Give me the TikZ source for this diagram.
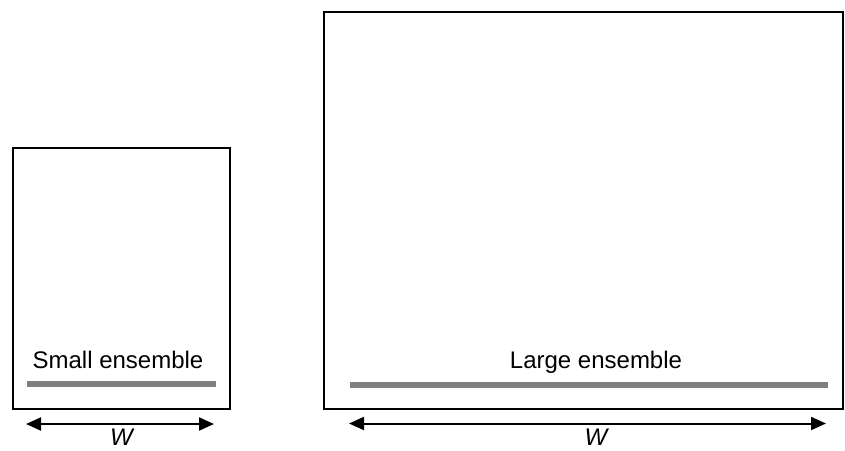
\documentclass[tikz,border=0pt]{standalone}
\usepackage{fontspec}
\setmainfont{Liberation Sans}
\usetikzlibrary{arrows.meta}
\begin{document}
\begin{tikzpicture}[x=1pt,y=-1pt,
  box/.style={draw=black,line width=2pt,inner sep=0pt,outer sep=0pt},
  bar/.style={draw={rgb,255:red,128;green,128;blue,128},line width=6pt},
  dim/.style={line width=2pt,{Triangle[length=15pt,width=13pt]}-{Triangle[length=15pt,width=13pt]}},
  lbl/.style={anchor=base,inner sep=0pt,font=\fontsize{24pt}{28pt}\selectfont}]
\useasboundingbox (0,0) rectangle (845,450);
% boxes
\node[box,minimum width=216.5pt,minimum height=260.5pt] (smallbox) at (121.25,278.25) {};
\node[box,minimum width=519pt,minimum height=397pt] (largebox) at (583.5,210.5) {};
% labels
\node[lbl] (smalltxt) at (118,368) {Small ensemble};
\node[lbl] (largetxt) at (596,368) {Large ensemble};
% bars
\coordinate (sb1) at (27,384);
\coordinate (sb2) at (216,384);
\coordinate (lb1) at (350,384.5);
\coordinate (lb2) at (828,384.5);
\draw[bar] (sb1) -- (sb2);
\draw[bar] (lb1) -- (lb2);
% dimension arrows
\coordinate (sa1) at (26,424);
\coordinate (sa2) at (214,424);
\coordinate (la1) at (349,423.5);
\coordinate (la2) at (826,423.5);
\draw[dim] (sa1) -- (sa2);
\draw[dim] (la1) -- (la2);
\node[lbl] (smallw) at (121.5,445.5) {\itshape W};
\node[lbl] (largew) at (596,445.5) {\itshape W};
\end{tikzpicture}
\end{document}
